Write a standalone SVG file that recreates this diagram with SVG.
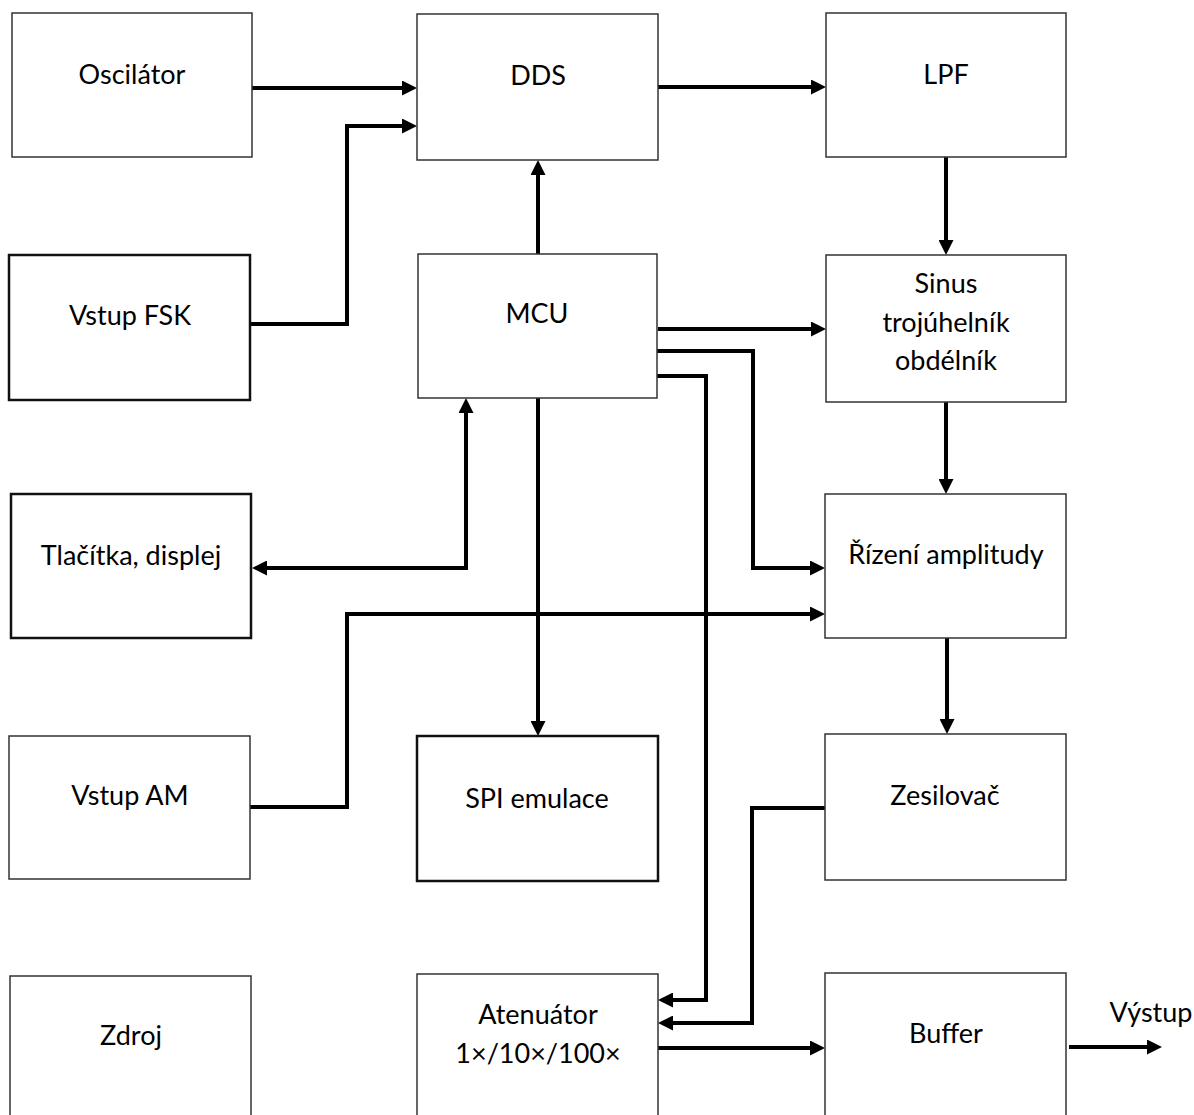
<svg xmlns="http://www.w3.org/2000/svg" width="1194" height="1115" viewBox="0 0 1194 1115">
<style>
.box{fill:#fff;stroke:#333;stroke-width:1.5}
.thick{stroke:#111;stroke-width:2.5}
.lbl{font-family:Lato,"Liberation Sans",sans-serif;font-size:27px;fill:#000;text-anchor:middle}
.c{fill:none;stroke:#000;stroke-width:4;marker-end:url(#ah)}
</style>
<defs>
<marker id="ah" markerUnits="userSpaceOnUse" markerWidth="15" markerHeight="15" refX="0" refY="7.5" orient="auto-start-reverse" viewBox="0 0 15 15">
<path d="M0,0 L15,7.5 L0,15 z" fill="#000"/>
</marker>
</defs>
<rect width="1194" height="1115" fill="#fff"/>
<g id="connectors">
<path class="c" d="M252,88 H402"/>
<path class="c" d="M250,324 H347 V126 H402"/>
<path class="c" d="M658,87 H811"/>
<path class="c" d="M538,254 V175"/>
<path class="c" d="M946,157 V240"/>
<path class="c" d="M658,329 H811"/>
<path class="c" d="M657,351 H753 V568 H810"/>
<path class="c" d="M657,376 H706 V1000 H673"/>
<path class="c" style="marker-start:url(#ah)" d="M267,568 H466 V413"/>
<path class="c" d="M250,807 H347 V614 H810"/>
<path class="c" d="M538,398 V721"/>
<path class="c" d="M946,402 V479"/>
<path class="c" d="M947,638 V719"/>
<path class="c" d="M825,808 H752 V1023 H673"/>
<path class="c" d="M658,1048 H810"/>
<path class="c" d="M1069,1047 H1147"/>
</g>
<g id="oscilator"><rect class="box" x="12" y="13" width="240" height="144"/><text class="lbl" x="132" y="84">Oscilátor</text></g>
<g id="vstup-fsk"><rect class="box thick" x="9" y="255" width="241" height="145"/><text class="lbl" x="130" y="325">Vstup FSK</text></g>
<g id="tlacitka"><rect class="box thick" x="11" y="494" width="240" height="144"/><text class="lbl" x="131" y="565">Tlačítka, displej</text></g>
<g id="vstup-am"><rect class="box" x="9" y="736" width="241" height="143"/><text class="lbl" x="130" y="805">Vstup AM</text></g>
<g id="zdroj"><rect class="box" x="10" y="976" width="241" height="142"/><text class="lbl" x="131" y="1045">Zdroj</text></g>
<g id="dds"><rect class="box" x="417" y="14" width="241" height="146"/><text class="lbl" x="538" y="85">DDS</text></g>
<g id="mcu"><rect class="box" x="418" y="254" width="239" height="144"/><text class="lbl" x="537" y="323">MCU</text></g>
<g id="spi"><rect class="box thick" x="417" y="736" width="241" height="145"/><text class="lbl" x="537" y="808">SPI emulace</text></g>
<g id="atenuator"><rect class="box" x="417" y="974" width="241" height="144"/><text class="lbl" x="538" y="1024">Atenuátor</text><text class="lbl" x="538" y="1063">1×/10×/100×</text></g>
<g id="lpf"><rect class="box" x="826" y="13" width="240" height="144"/><text class="lbl" x="946" y="84">LPF</text></g>
<g id="sinus"><rect class="box" x="826" y="255" width="240" height="147"/><text class="lbl" x="946" y="293">Sinus</text><text class="lbl" x="946" y="332">trojúhelník</text><text class="lbl" x="946" y="370">obdélník</text></g>
<g id="rizeni"><rect class="box" x="825" y="494" width="241" height="144"/><text class="lbl" x="946" y="564">Řízení amplitudy</text></g>
<g id="zesilovac"><rect class="box" x="825" y="734" width="241" height="146"/><text class="lbl" x="945" y="805">Zesilovač</text></g>
<g id="buffer"><rect class="box" x="825" y="973" width="241" height="145"/><text class="lbl" x="946" y="1043">Buffer</text></g>
<text class="lbl" x="1151" y="1022">Výstup</text>
</svg>
